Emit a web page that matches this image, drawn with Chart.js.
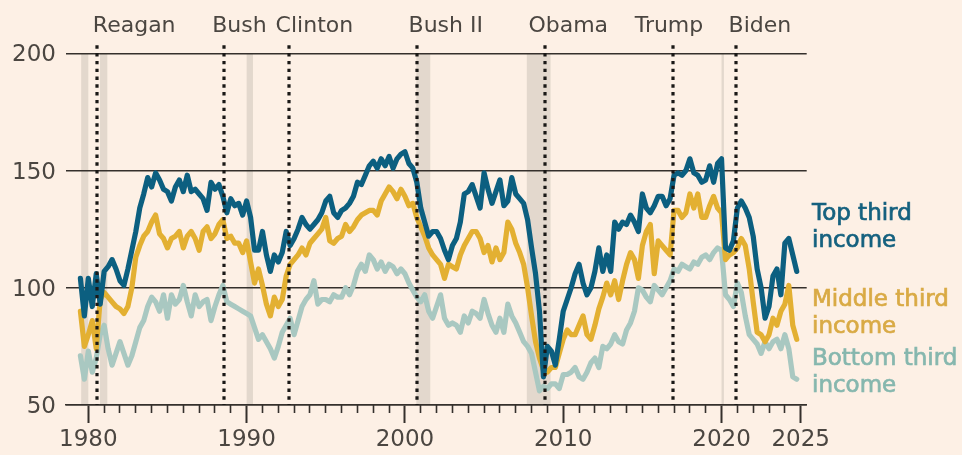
<!DOCTYPE html>
<html>
<head>
<meta charset="utf-8">
<script src="https://cdn.jsdelivr.net/npm/chart.js@4.4.1/dist/chart.umd.min.js"></script>
<style>
  html, body { margin: 0; padding: 0; background: #fdf0e5; }
  canvas { display: block; }
</style>
</head>
<body>
<canvas id="chart" width="962" height="455"></canvas>
<script>
// Quarterly observations, decimal years
const quarters = [
  1979.5, 1979.75,
  1980, 1980.25, 1980.5, 1980.75, 1981, 1981.25, 1981.5, 1981.75,
  1982, 1982.25, 1982.5, 1982.75, 1983, 1983.25, 1983.5, 1983.75,
  1984, 1984.25, 1984.5, 1984.75, 1985, 1985.25, 1985.5, 1985.75,
  1986, 1986.25, 1986.5, 1986.75, 1987, 1987.25, 1987.5, 1987.75,
  1988, 1988.25, 1988.5, 1988.75, 1989, 1989.25, 1989.5, 1989.75,
  1990, 1990.25, 1990.5, 1990.75, 1991, 1991.25, 1991.5, 1991.75,
  1992, 1992.25, 1992.5, 1992.75, 1993, 1993.25, 1993.5, 1993.75,
  1994, 1994.25, 1994.5, 1994.75, 1995, 1995.25, 1995.5, 1995.75,
  1996, 1996.25, 1996.5, 1996.75, 1997, 1997.25, 1997.5, 1997.75,
  1998, 1998.25, 1998.5, 1998.75, 1999, 1999.25, 1999.5, 1999.75,
  2000, 2000.25, 2000.5, 2000.75, 2001, 2001.25, 2001.5, 2001.75,
  2002, 2002.25, 2002.5, 2002.75, 2003, 2003.25, 2003.5, 2003.75,
  2004, 2004.25, 2004.5, 2004.75, 2005, 2005.25, 2005.5, 2005.75,
  2006, 2006.25, 2006.5, 2006.75, 2007, 2007.25, 2007.5, 2007.75,
  2008, 2008.25, 2008.5, 2008.75, 2009, 2009.25, 2009.5, 2009.75,
  2010, 2010.25, 2010.5, 2010.75, 2011, 2011.25, 2011.5, 2011.75,
  2012, 2012.25, 2012.5, 2012.75, 2013, 2013.25, 2013.5, 2013.75,
  2014, 2014.25, 2014.5, 2014.75, 2015, 2015.25, 2015.5, 2015.75,
  2016, 2016.25, 2016.5, 2016.75, 2017, 2017.25, 2017.5, 2017.75,
  2018, 2018.25, 2018.5, 2018.75, 2019, 2019.25, 2019.5, 2019.75,
  2020, 2020.25, 2020.5, 2020.75, 2021, 2021.25, 2021.5, 2021.75,
  2022, 2022.25, 2022.5, 2022.75, 2023, 2023.25, 2023.5, 2023.75,
  2024, 2024.25, 2024.5, 2024.75
];

// Consumer sentiment index by income third
const topThird = [
  104, 88,
  104, 92, 106, 93, 107, 109, 112, 108,
  103, 101, 108, 116, 124, 134, 140, 147,
  143, 149, 146, 142, 141, 137, 143, 146,
  141, 148, 141, 142, 140, 138, 133, 145,
  142, 144, 139, 132, 138, 135, 136, 131,
  137, 130, 116, 116, 124, 114, 107, 114,
  111, 115, 124, 118, 121, 125, 130, 127,
  125, 127, 129, 132, 137, 139, 132, 130,
  133, 134, 136, 139, 145, 144, 148, 152,
  154, 151, 155, 152, 156, 151, 155, 157,
  158, 153, 151, 145, 134, 128, 122, 124,
  124, 121, 116, 112, 118, 121, 128, 140,
  141, 144, 139, 134, 149, 142, 136, 141,
  146, 135, 137, 147, 140, 138, 136, 129,
  117, 106, 90, 62, 75, 73, 67, 78,
  90, 95, 100, 106, 110, 102, 97, 100,
  107, 117, 107, 114, 107, 128, 125, 128,
  127, 131, 128, 124, 140, 134, 132, 135,
  139, 139, 135, 138, 148, 149, 148, 150,
  155, 149, 148, 145, 146, 152, 145, 153,
  155, 117, 116, 120, 134, 137, 134, 130,
  122, 108, 100, 87, 92, 105, 108, 97,
  119, 121, 114, 107
];

const middleThird = [
  90, 75,
  80, 86, 74, 95, 98, 96, 94, 92,
  91, 89, 92, 100, 113, 118, 122, 124,
  128, 131, 123, 121, 117, 121, 122, 124,
  117, 122, 124, 121, 116, 124, 126, 121,
  123, 127, 129, 121, 122, 119, 119, 115,
  120, 111, 102, 108, 101, 93, 88, 96,
  92, 95, 105, 110, 112, 114, 117, 114,
  119, 121, 123, 125, 130, 120, 119, 121,
  122, 127, 124, 126, 129, 131, 132, 133,
  133, 131, 137, 140, 143, 141, 138, 142,
  139, 135, 136, 130, 126, 122, 117, 114,
  112, 110, 104, 110, 109, 108, 114, 118,
  121, 124, 124, 121, 115, 118, 111, 117,
  112, 115, 128, 125, 119, 115, 110, 100,
  88, 77, 70, 65, 64, 66, 66, 72,
  78, 82, 80, 80, 84, 88, 80, 78,
  84, 91, 96, 102, 97, 103, 95, 103,
  110, 115, 112, 104, 118, 124, 127, 106,
  120, 118, 116, 114, 133, 133, 130, 132,
  140, 134, 140, 130, 130, 135, 139, 134,
  132, 112, 114, 115, 117, 121, 118, 108,
  94, 81, 80, 77, 80, 87, 84, 90,
  93, 101, 84, 78
];

const bottomThird = [
  71, 61,
  73, 64, 70, 80, 84, 74, 67, 72,
  77, 72, 67, 71, 77, 83, 86, 92,
  96, 94, 90, 97, 87, 97, 93, 95,
  101, 94, 88, 97, 92, 94, 95, 86,
  92, 97, 101, 94, 93, 92, 91, 90,
  89, 88, 83, 78, 80, 77, 74, 70,
  75, 81, 84, 87, 80, 86, 92, 95,
  97, 103, 93, 95, 95, 94, 97, 96,
  96, 100, 97, 101, 107, 110, 107, 114,
  112, 108, 111, 107, 110, 109, 106, 108,
  106, 102, 99, 96, 94, 97, 90, 87,
  92, 97, 87, 84, 85, 84, 81, 88,
  85, 90, 89, 87, 95, 89, 84, 81,
  87, 81, 93, 88, 85, 81, 77, 75,
  72, 64, 56, 58, 57, 59, 59, 57,
  63, 63, 64, 66, 62, 61, 64, 68,
  70, 66, 75, 74, 76, 80, 77, 76,
  82, 85, 90, 100, 99, 96, 94, 101,
  99, 97, 100, 103, 108, 107, 110, 109,
  108, 111, 110, 113, 114, 112, 115, 117,
  116, 97, 95, 92, 102, 98, 88, 80,
  78, 76, 72, 77, 74, 77, 78, 74,
  80, 74, 62, 61
];

// Recessions (start, end) in decimal years
const recessions = [
  [1979.55, 1980.0], [1980.74, 1981.2], [1990.0, 1990.4],
  [2000.72, 2001.6], [2007.7, 2009.2], [2020.0, 2020.15]
];

// Presidential terms
const presidents = ['Reagan', 'Bush', 'Clinton', 'Bush II', 'Obama', 'Trump', 'Biden'];
const termStarts = [1980.53, 1988.6, 1992.67, 2000.76, 2008.82, 2016.92, 2020.94];

// Axis ticks
const yTicks = [50, 100, 150, 200];
const majorYears = [1980, 1990, 2000, 2010, 2020, 2025];

const seriesNames = [['Top third', 'income'], ['Middle third', 'income'], ['Bottom third', 'income']];

// ---- styling ----
const FONT = '"DejaVu Sans", "Liberation Sans", sans-serif';
const BG = '#fdf0e5';
const INK = '#4b4641';
const RULE = '#35302c';
const BAND = '#e3d8cd';
const LINE_COLORS = ['#0c5f80', '#e3b032', '#a9c8c1'];
const NAME_COLORS = ['#15617f', '#d9aa45', '#86b7ae'];
const NAME_BASELINES = [[220, 247], [306, 333], [365, 392]];
const NAME_X = 812;
const PRES_LABEL_SHIFT = [37.5, 15, 25.5, 28.8, 23.7, -3.8, 23.5];
const X_MIN = 1978.59, X_MAX = 2025.38;

const minorYears = [];
for (let yr = 1981; yr <= 2024; yr++) if (!majorYears.includes(yr)) minorYears.push(yr);

const toPoints = vals => vals.map((v, i) => ({ x: quarters[i], y: v }));

const decor = {
  id: 'decor',
  beforeDraw(chart) {
    const { ctx, chartArea: a, scales: { x } } = chart;
    ctx.save();
    ctx.fillStyle = BG;
    ctx.fillRect(0, 0, chart.width, chart.height);
    ctx.fillStyle = BAND;
    recessions.forEach(([s, e]) => {
      const x0 = x.getPixelForValue(s), x1 = x.getPixelForValue(e);
      ctx.fillRect(x0, a.top, Math.max(x1 - x0, 2), a.bottom - a.top);
    });
    ctx.restore();
  },
  afterDatasetsDraw(chart) {
    const { ctx, chartArea: a, scales: { x } } = chart;
    ctx.save();
    ctx.strokeStyle = '#1a1816';
    ctx.lineWidth = 3.2;
    ctx.setLineDash([3.4, 4.4]);
    termStarts.forEach(t => {
      const px = Math.round(x.getPixelForValue(t));
      ctx.beginPath();
      ctx.moveTo(px, a.top - 8);
      ctx.lineTo(px, a.bottom);
      ctx.stroke();
    });
    ctx.setLineDash([]);
    ctx.fillStyle = INK;
    ctx.font = '22px ' + FONT;
    ctx.textAlign = 'center';
    ctx.textBaseline = 'alphabetic';
    presidents.forEach((name, i) => {
      ctx.fillText(name, x.getPixelForValue(termStarts[i]) + PRES_LABEL_SHIFT[i], 31.5);
    });
    ctx.restore();
  },
  afterDraw(chart) {
    const { ctx } = chart;
    ctx.save();
    ctx.font = '23px ' + FONT;
    ctx.textAlign = 'left';
    ctx.textBaseline = 'alphabetic';
    ctx.lineWidth = 0.7;
    seriesNames.forEach((lines, i) => {
      ctx.fillStyle = NAME_COLORS[i];
      ctx.strokeStyle = NAME_COLORS[i];
      lines.forEach((txt, j) => {
        ctx.fillText(txt, NAME_X, NAME_BASELINES[i][j]);
        ctx.strokeText(txt, NAME_X, NAME_BASELINES[i][j]);
      });
    });
    ctx.restore();
  }
};

const lineStyle = color => ({
  borderColor: color, borderWidth: 5.2, pointRadius: 0, tension: 0,
  borderJoinStyle: 'round', borderCapStyle: 'round', fill: false
});

new Chart(document.getElementById('chart'), {
  type: 'line',
  data: {
    datasets: [
      { label: 'Top third income', data: toPoints(topThird), ...lineStyle(LINE_COLORS[0]) },
      { label: 'Middle third income', data: toPoints(middleThird), ...lineStyle(LINE_COLORS[1]) },
      { label: 'Bottom third income', data: toPoints(bottomThird), ...lineStyle(LINE_COLORS[2]) }
    ]
  },
  options: {
    responsive: false,
    animation: false,
    devicePixelRatio: 1,
    layout: { padding: { top: 53.3, right: 155.3, left: 0, bottom: 0 } },
    plugins: { legend: { display: false }, tooltip: { enabled: false }, title: { display: false } },
    scales: {
      x: {
        type: 'linear', position: 'bottom', min: X_MIN, max: X_MAX,
        afterFit: s => { s.height = 50; },
        afterBuildTicks: s => { s.ticks = majorYears.map(v => ({ value: v })); },
        ticks: {
          autoSkip: false, maxRotation: 0, padding: 3, color: INK,
          font: { family: FONT, size: 23 }, callback: v => String(v)
        },
        grid: { drawOnChartArea: false, drawTicks: true, tickLength: 18, tickColor: RULE, tickWidth: 2 },
        border: { display: true, color: RULE, width: 1.6 }
      },
      xMinor: {
        type: 'linear', axis: 'x', position: { y: 50 }, min: X_MIN, max: X_MAX,
        afterBuildTicks: s => { s.ticks = minorYears.map(v => ({ value: v })); },
        ticks: { display: false },
        grid: { drawOnChartArea: false, drawTicks: true, tickLength: 8, tickColor: RULE, tickWidth: 1.6 },
        border: { display: false }
      },
      y: {
        type: 'linear', min: 50, max: 200,
        afterFit: s => { s.width = 66; },
        afterBuildTicks: s => { s.ticks = yTicks.map(v => ({ value: v })); },
        ticks: { padding: 10, labelOffset: 2, color: INK, font: { family: FONT, size: 23 } },
        grid: { color: RULE, lineWidth: 1.5, drawTicks: false },
        border: { display: false }
      }
    }
  },
  plugins: [decor]
});
</script>
</body>
</html>
